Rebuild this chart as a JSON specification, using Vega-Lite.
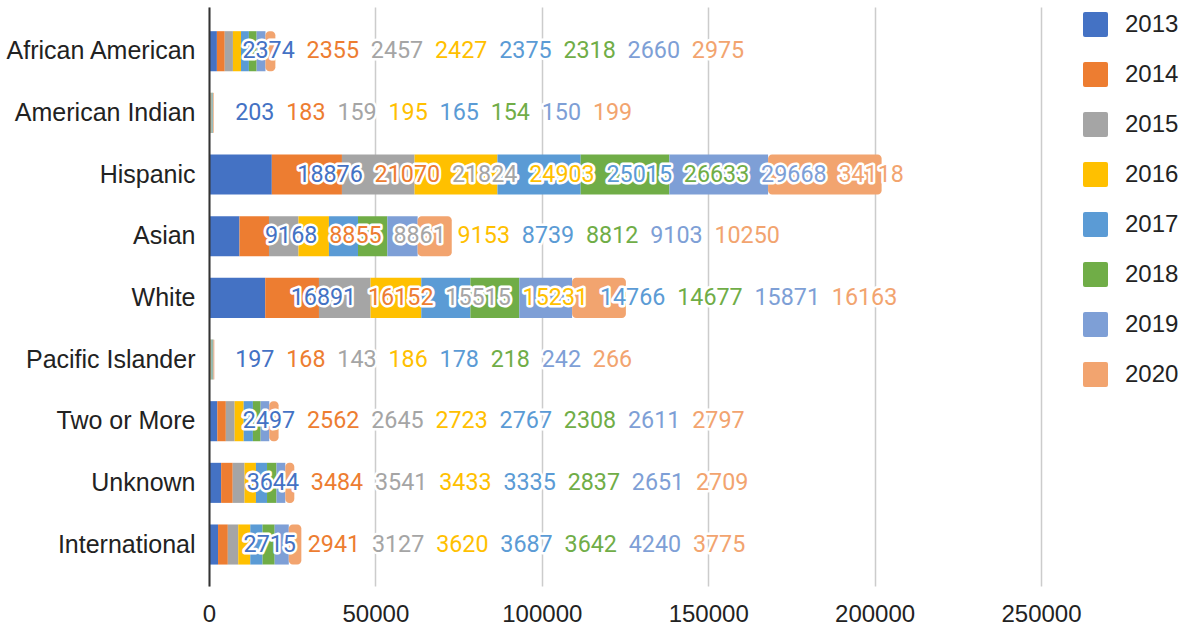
{
  "$schema": "https://vega.github.io/schema/vega-lite/v6.json",
  "width": 832,
  "height": 579,
  "autosize": {"type": "none"},
  "padding": {"left": 209, "top": 7, "right": 146, "bottom": 43},
  "background": "white",
  "config": {
    "view": {"stroke": null},
    "font": "Liberation Sans",
    "legend": {
      "orient": "right",
      "offset": 37,
      "padding": 5,
      "symbolType": "M -0.84 -1 L 0.84 -1 Q 1 -1 1 -0.84 L 1 0.84 Q 1 1 0.84 1 L -0.84 1 Q -1 1 -1 0.84 L -1 -0.84 Q -1 -1 -0.84 -1 Z",
      "symbolSize": 625,
      "symbolStrokeWidth": 0,
      "symbolOpacity": 1,
      "labelFont": "Liberation Sans",
      "labelFontSize": 24,
      "labelColor": "#222222",
      "labelOffset": 17,
      "rowPadding": 25,
      "titleFontSize": 0
    }
  },
  "data": {
    "values": [
      {"category": "African American", "year": "2013", "value": 2374},
      {"category": "African American", "year": "2014", "value": 2355},
      {"category": "African American", "year": "2015", "value": 2457},
      {"category": "African American", "year": "2016", "value": 2427},
      {"category": "African American", "year": "2017", "value": 2375},
      {"category": "African American", "year": "2018", "value": 2318},
      {"category": "African American", "year": "2019", "value": 2660},
      {"category": "African American", "year": "2020", "value": 2975},
      {"category": "American Indian", "year": "2013", "value": 203},
      {"category": "American Indian", "year": "2014", "value": 183},
      {"category": "American Indian", "year": "2015", "value": 159},
      {"category": "American Indian", "year": "2016", "value": 195},
      {"category": "American Indian", "year": "2017", "value": 165},
      {"category": "American Indian", "year": "2018", "value": 154},
      {"category": "American Indian", "year": "2019", "value": 150},
      {"category": "American Indian", "year": "2020", "value": 199},
      {"category": "Hispanic", "year": "2013", "value": 18876},
      {"category": "Hispanic", "year": "2014", "value": 21070},
      {"category": "Hispanic", "year": "2015", "value": 21824},
      {"category": "Hispanic", "year": "2016", "value": 24903},
      {"category": "Hispanic", "year": "2017", "value": 25015},
      {"category": "Hispanic", "year": "2018", "value": 26633},
      {"category": "Hispanic", "year": "2019", "value": 29668},
      {"category": "Hispanic", "year": "2020", "value": 34118},
      {"category": "Asian", "year": "2013", "value": 9168},
      {"category": "Asian", "year": "2014", "value": 8855},
      {"category": "Asian", "year": "2015", "value": 8861},
      {"category": "Asian", "year": "2016", "value": 9153},
      {"category": "Asian", "year": "2017", "value": 8739},
      {"category": "Asian", "year": "2018", "value": 8812},
      {"category": "Asian", "year": "2019", "value": 9103},
      {"category": "Asian", "year": "2020", "value": 10250},
      {"category": "White", "year": "2013", "value": 16891},
      {"category": "White", "year": "2014", "value": 16152},
      {"category": "White", "year": "2015", "value": 15515},
      {"category": "White", "year": "2016", "value": 15231},
      {"category": "White", "year": "2017", "value": 14766},
      {"category": "White", "year": "2018", "value": 14677},
      {"category": "White", "year": "2019", "value": 15871},
      {"category": "White", "year": "2020", "value": 16163},
      {"category": "Pacific Islander", "year": "2013", "value": 197},
      {"category": "Pacific Islander", "year": "2014", "value": 168},
      {"category": "Pacific Islander", "year": "2015", "value": 143},
      {"category": "Pacific Islander", "year": "2016", "value": 186},
      {"category": "Pacific Islander", "year": "2017", "value": 178},
      {"category": "Pacific Islander", "year": "2018", "value": 218},
      {"category": "Pacific Islander", "year": "2019", "value": 242},
      {"category": "Pacific Islander", "year": "2020", "value": 266},
      {"category": "Two or More", "year": "2013", "value": 2497},
      {"category": "Two or More", "year": "2014", "value": 2562},
      {"category": "Two or More", "year": "2015", "value": 2645},
      {"category": "Two or More", "year": "2016", "value": 2723},
      {"category": "Two or More", "year": "2017", "value": 2767},
      {"category": "Two or More", "year": "2018", "value": 2308},
      {"category": "Two or More", "year": "2019", "value": 2611},
      {"category": "Two or More", "year": "2020", "value": 2797},
      {"category": "Unknown", "year": "2013", "value": 3644},
      {"category": "Unknown", "year": "2014", "value": 3484},
      {"category": "Unknown", "year": "2015", "value": 3541},
      {"category": "Unknown", "year": "2016", "value": 3433},
      {"category": "Unknown", "year": "2017", "value": 3335},
      {"category": "Unknown", "year": "2018", "value": 2837},
      {"category": "Unknown", "year": "2019", "value": 2651},
      {"category": "Unknown", "year": "2020", "value": 2709},
      {"category": "International", "year": "2013", "value": 2715},
      {"category": "International", "year": "2014", "value": 2941},
      {"category": "International", "year": "2015", "value": 3127},
      {"category": "International", "year": "2016", "value": 3620},
      {"category": "International", "year": "2017", "value": 3687},
      {"category": "International", "year": "2018", "value": 3642},
      {"category": "International", "year": "2019", "value": 4240},
      {"category": "International", "year": "2020", "value": 3775}
    ]
  },
  "encoding": {
    "y": {
      "field": "category",
      "type": "nominal",
      "sort": ["African American", "American Indian", "Hispanic", "Asian", "White", "Pacific Islander", "Two or More", "Unknown", "International"],
      "scale": {"paddingInner": 0.35, "paddingOuter": 0.37, "align": 0.53},
      "axis": {
        "title": null,
        "domain": true,
        "domainColor": "#333333",
        "domainWidth": 2,
        "ticks": false,
        "grid": false,
        "labelFont": "Liberation Sans",
        "labelFontSize": 25,
        "labelColor": "#222222",
        "labelPadding": 14,
        "labelLimit": 400,
        "zindex": 1
      }
    }
  },
  "layer": [
    {
      "transform": [{"filter": "datum.year != '2020'"}],
      "mark": {"type": "bar"},
      "encoding": {
        "x": {
          "field": "value",
          "type": "quantitative",
          "stack": "zero",
          "scale": {"domain": [0, 250000], "nice": false, "zero": true},
          "axis": {
            "title": null,
            "values": [0, 50000, 100000, 150000, 200000, 250000],
            "format": "d",
            "grid": true,
            "gridColor": "#cccccc",
            "gridWidth": 1.5,
            "domain": false,
            "ticks": false,
            "labelFont": "Liberation Sans",
            "labelFontSize": 24,
            "labelColor": "#222222",
            "labelPadding": 16,
            "labelFlush": false
          }
        },
        "color": {
          "field": "year",
          "type": "nominal",
          "scale": {
            "domain": ["2013", "2014", "2015", "2016", "2017", "2018", "2019", "2020"],
            "range": ["#4472c4", "#ed7d31", "#a5a5a5", "#ffc000", "#5b9bd5", "#70ad47", "#7e9fd6", "#f2a46f"]
          },
          "legend": {"title": null}
        },
        "order": {"field": "year", "type": "ordinal"}
      }
    },
    {
      "transform": [
        {"stack": "value", "groupby": ["category"], "sort": [{"field": "year", "order": "ascending"}], "as": ["x0", "x1"]},
        {"filter": "datum.year == '2020'"}
      ],
      "mark": {"type": "bar", "cornerRadiusEnd": 4},
      "encoding": {
        "x": {"field": "x0", "type": "quantitative"},
        "x2": {"field": "x1"},
        "color": {"field": "year", "type": "nominal", "legend": {"title": null}}
      }
    },
    {
      "transform": [
        {"window": [{"op": "first_value", "field": "value", "as": "v0"}], "groupby": ["category"], "sort": [{"field": "year", "order": "ascending"}], "frame": [null, null]},
        {"calculate": "(length(toString(datum.value)) * 13.1 + 11.8) * 250000 / 832", "as": "w"},
        {"window": [{"op": "sum", "field": "w", "as": "cumW"}], "groupby": ["category"], "sort": [{"field": "year", "order": "ascending"}], "frame": [null, 0]},
        {"calculate": "datum.v0 + 25.5 * 250000 / 832 + datum.cumW - datum.w", "as": "labelX"}
      ],
      "layer": [
        {
          "mark": {"type": "text", "align": "left", "baseline": "middle", "font": "Roboto", "fontSize": 23.3, "fill": "white", "stroke": "white", "strokeWidth": 5, "strokeJoin": "round"},
          "encoding": {
            "x": {"field": "labelX", "type": "quantitative"},
            "text": {"field": "value", "type": "quantitative", "format": "d"}
          }
        },
        {
          "mark": {"type": "text", "align": "left", "baseline": "middle", "font": "Roboto", "fontSize": 23.3},
          "encoding": {
            "x": {"field": "labelX", "type": "quantitative"},
            "text": {"field": "value", "type": "quantitative", "format": "d"},
            "color": {"field": "year", "type": "nominal", "legend": {"title": null}}
          }
        }
      ]
    }
  ]
}
